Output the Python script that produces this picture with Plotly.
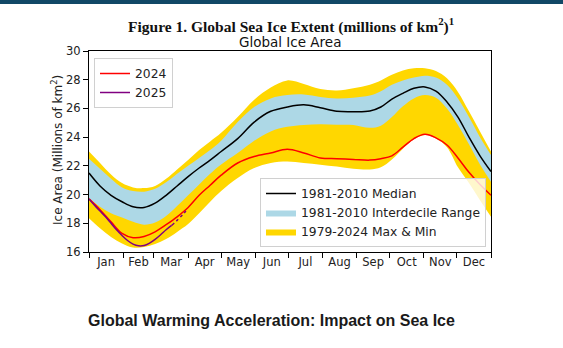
import pandas as pd
import plotly.graph_objects as go

# Day-of-year sample points (0 = 1 Jan, 365 = 31 Dec)
DAYS = [0, 10, 20, 30, 40, 50, 60, 70, 80, 90, 100, 110, 120, 135, 150, 165,
        180, 195, 210, 225, 240, 255, 265, 275, 285, 295, 305, 315, 325, 335,
        345, 355, 365]

# 1981-2010 median global sea ice area (million km²)
MEDIAN_8110 = [21.5, 20.6, 19.95, 19.5, 19.15, 19.1, 19.4, 19.95, 20.6, 21.25,
               21.85, 22.4, 23.0, 23.9, 25.05, 25.8, 26.1, 26.25, 26.05, 25.8,
               25.77, 25.82, 26.1, 26.65, 27.05, 27.4, 27.5, 27.2, 26.45, 25.4,
               24.0, 22.7, 21.6]

# 1981-2010 interdecile range
DECILE_HIGH = [22.5, 21.8, 21.1, 20.5, 20.25, 20.2, 20.4, 20.85, 21.45, 22.0,
               22.55, 23.1, 23.75, 25.05, 26.1, 26.7, 26.93, 26.97, 26.8, 26.7,
               26.75, 26.9, 27.2, 27.65, 27.95, 28.15, 28.28, 28.15, 27.65, 26.7,
               25.4, 24.0, 22.75]
DECILE_LOW = [19.75, 19.15, 18.7, 18.4, 18.1, 17.9, 18.05, 18.5, 19.2, 19.95,
              20.7, 21.45, 22.1, 22.9, 23.75, 24.4, 24.72, 24.85, 24.9, 24.87,
              24.85, 24.65, 24.8, 25.4, 26.15, 26.7, 26.93, 26.75, 26.0, 24.85,
              23.5, 22.1, 20.9]

# 1979-2024 record maximum and minimum
RECORD_MAX = [23.0, 22.2, 21.4, 20.8, 20.5, 20.45, 20.6, 21.1, 21.75, 22.4,
              23.1, 23.7, 24.3, 25.4, 26.6, 27.45, 27.95, 27.7, 27.35, 27.25,
              27.4, 27.65, 27.95, 28.35, 28.65, 28.8, 28.8, 28.6, 28.1, 27.15,
              25.8, 24.4, 23.0]
RECORD_MIN = [18.35, 17.65, 17.05, 16.6, 16.32, 16.35, 16.55, 16.9, 17.4, 17.95,
              18.7, 19.5, 20.25, 21.15, 21.85, 22.2, 22.3, 22.2, 22.08, 21.95,
              21.8, 21.75, 21.9, 22.45, 23.2, 23.85, 24.15, 23.9, 23.3, 21.9,
              20.8, 19.6, 18.45]

# Year 2024
AREA_2024 = [19.7, 18.95, 18.1, 17.3, 17.0, 17.08, 17.4, 17.9, 18.45, 19.1,
             19.95, 20.65, 21.35, 22.2, 22.65, 22.9, 23.15, 22.9, 22.55, 22.5,
             22.45, 22.4, 22.5, 22.7, 23.3, 23.9, 24.2, 23.95, 23.45, 22.55,
             21.55, 20.7, 19.95]

# Year 2025 (to date); the last values are preliminary
DAYS_2025 = [0, 5, 10, 15, 20, 25, 30, 35, 40, 45, 50, 55, 60, 65, 70, 75, 80, 85, 88]
AREA_2025 = [19.7, 19.25, 18.85, 18.45, 18.0, 17.55, 17.15, 16.8, 16.55, 16.43,
             16.45, 16.62, 16.88, 17.2, 17.55, 17.85, 18.2, 18.6, 18.85]
PRELIM_FROM = 15  # index where preliminary data begins

Y_TICKS = [16, 18, 20, 22, 24, 26, 28, 30]

# Plot on a calendar (non-leap) year so months get period-centred labels
YEAR_START = pd.Timestamp("2023-01-01")


def to_dates(days):
    return YEAR_START + pd.to_timedelta(days, unit="D")


dates = to_dates(DAYS)
dates_2025 = to_dates(DAYS_2025)

FONT = "DejaVu Sans"
INK = "#222222"
GOLD = "#FFD700"
LIGHTBLUE = "#ADD8E6"

fig = go.Figure()

# Record max/min band
fig.add_trace(go.Scatter(x=dates, y=RECORD_MIN, mode="lines", line=dict(width=0, shape="spline"),
                         showlegend=False, hoverinfo="skip", legend="legend2"))
fig.add_trace(go.Scatter(x=dates, y=RECORD_MAX, mode="lines", line=dict(width=0, shape="spline"),
                         fill="tonexty", fillcolor=GOLD, name="1979-2024 Max & Min",
                         legend="legend2", legendrank=3))

# Interdecile band
fig.add_trace(go.Scatter(x=dates, y=DECILE_LOW, mode="lines", line=dict(width=0, shape="spline"),
                         showlegend=False, hoverinfo="skip", legend="legend2"))
fig.add_trace(go.Scatter(x=dates, y=DECILE_HIGH, mode="lines", line=dict(width=0, shape="spline"),
                         fill="tonexty", fillcolor=LIGHTBLUE, name="1981-2010 Interdecile Range",
                         legend="legend2", legendrank=2))

# Median
fig.add_trace(go.Scatter(x=dates, y=MEDIAN_8110, mode="lines",
                         line=dict(color="black", width=1.5, shape="spline"),
                         name="1981-2010 Median", legend="legend2", legendrank=1))

# 2024 and 2025
fig.add_trace(go.Scatter(x=dates, y=AREA_2024, mode="lines",
                         line=dict(color="red", width=1.5, shape="spline"),
                         name="2024", legend="legend", legendrank=1))
fig.add_trace(go.Scatter(x=dates_2025[:PRELIM_FROM + 1], y=AREA_2025[:PRELIM_FROM + 1], mode="lines",
                         line=dict(color="purple", width=1.5, shape="spline"),
                         name="2025", legend="legend", legendrank=2))
fig.add_trace(go.Scatter(x=dates_2025[PRELIM_FROM:], y=AREA_2025[PRELIM_FROM:], mode="lines",
                         line=dict(color="purple", width=1.5, dash="dot", shape="spline"),
                         showlegend=False, legend="legend"))

W, H = 563, 348
L, R, T, B = 89, 72, 51, 96
plot_h = H - T - B
plot_w = W - L - R


def px_y(py):
    return (H - B - py) / plot_h


def px_x(px):
    return (px - L) / plot_w


fig.update_layout(
    width=W, height=H,
    margin=dict(l=L, r=R, t=T, b=B, autoexpand=False),
    paper_bgcolor="white", plot_bgcolor="white",
    font=dict(family=FONT, color=INK, size=11.5),
    xaxis=dict(
        type="date", range=[YEAR_START, to_dates([365])[0]],
        showgrid=False, zeroline=False,
        showline=True, linecolor="black", linewidth=1, mirror=True,
        tick0=YEAR_START, dtick="M1", tickformat="%b", ticklabelmode="period",
        ticks="outside", ticklen=5, tickwidth=1, tickcolor="black",
        ticklabelstandoff=-6,
        tickfont=dict(family=FONT, size=11.5, color=INK),
    ),
    yaxis=dict(
        range=[16, 30], showgrid=False, zeroline=False,
        showline=True, linecolor="black", linewidth=1, mirror=True,
        tickmode="array", tickvals=Y_TICKS, ticks="outside", ticklen=5,
        tickwidth=1, tickcolor="black",
        tickfont=dict(family=FONT, size=11.5, color=INK),
    ),
    legend=dict(
        x=px_x(94), y=px_y(58), xanchor="left", yanchor="top",
        bgcolor="rgba(255,255,255,0.8)", bordercolor="#d0d0d0", borderwidth=1,
        font=dict(family=FONT, size=12.3, color=INK), traceorder="normal",
    ),
    legend2=dict(
        x=px_x(486), y=px_y(247), xanchor="right", yanchor="bottom",
        bgcolor="rgba(255,255,255,0.8)", bordercolor="#d0d0d0", borderwidth=1,
        font=dict(family=FONT, size=12.3, color=INK), traceorder="normal",
    ),
    showlegend=True,
)

# Dark band along the top of the page
fig.add_shape(type="rect", xref="paper", yref="paper",
              x0=px_x(0), x1=px_x(W), y0=px_y(4), y1=px_y(0),
              fillcolor="#114866", line=dict(width=0), layer="above")

# Figure heading, chart title, axis title and caption
fig.add_annotation(text="<b>Figure 1. Global Sea Ice Extent (millions of km<sup>2</sup>)<sup>1</sup></b>",
                   xref="paper", yref="paper", x=px_x(291), y=px_y(38),
                   xanchor="center", yanchor="bottom", showarrow=False,
                   font=dict(family="Liberation Serif", size=15.5, color="#111111"))
fig.add_annotation(text="Global Ice Area", xref="paper", yref="paper",
                   x=px_x(290), y=px_y(41.5), xanchor="center", yanchor="middle",
                   showarrow=False, font=dict(family=FONT, size=13.5, color="#111111"))
fig.add_annotation(text="Ice Area (Millions of km<sup>2</sup>)", xref="paper", yref="paper",
                   x=px_x(57), y=px_y(150), xanchor="center", yanchor="middle",
                   textangle=-90, showarrow=False,
                   font=dict(family=FONT, size=12, color=INK))
fig.add_annotation(text="<b>Global Warming Acceleration: Impact on Sea Ice</b>",
                   xref="paper", yref="paper", x=px_x(271), y=px_y(320),
                   xanchor="center", yanchor="middle", showarrow=False,
                   font=dict(family="Liberation Sans", size=16, color="#1a1a1a"))

fig.write_html("out.html")
